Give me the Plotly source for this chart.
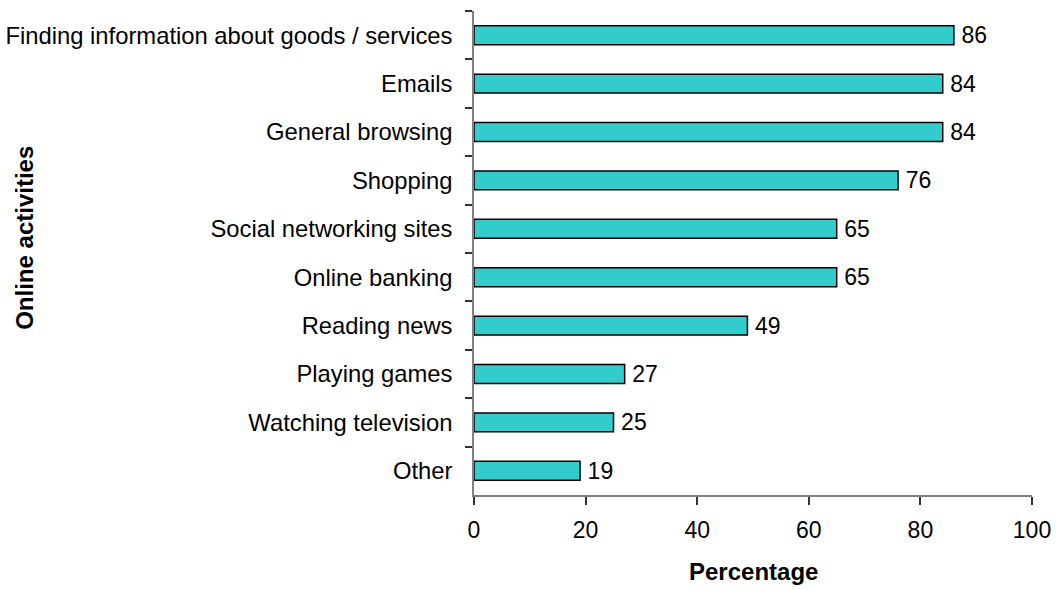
import plotly.graph_objects as go

# Share of users doing each online activity (%)
activities = [
    "Finding information about goods / services",
    "Emails",
    "General browsing",
    "Shopping",
    "Social networking sites",
    "Online banking",
    "Reading news",
    "Playing games",
    "Watching television",
    "Other",
]
percentages = [86, 84, 84, 76, 65, 65, 49, 27, 25, 19]
x_ticks = [0, 20, 40, 60, 80, 100]

FONT = "Liberation Sans, Arial, sans-serif"

fig = go.Figure(
    go.Bar(
        x=percentages,
        y=activities,
        orientation="h",
        marker=dict(color="#33CCCC", line=dict(color="black", width=1.5)),
        texttemplate="\u2009%{x}",
        textposition="outside",
        constraintext="none",
        textfont=dict(family=FONT, size=23, color="black"),
        cliponaxis=False,
        width=0.39,
    )
)

fig.update_layout(
    width=1058,
    height=590,
    margin=dict(l=474, r=26, t=11, b=95),
    paper_bgcolor="white",
    plot_bgcolor="white",
    showlegend=False,
    font=dict(family=FONT, size=23, color="black"),
    xaxis=dict(
        range=[0, 100],
        tickvals=x_ticks,
        ticktext=[str(t) for t in x_ticks],
        automargin=False,
        showgrid=False,
        zeroline=False,
        showline=True,
        linecolor="#808080",
        linewidth=1.5,
        ticks="outside",
        ticklen=8,
        tickcolor="#333333",
        tickwidth=1.5,
        ticklabelstandoff=6,
        tickfont=dict(family=FONT, size=23, color="black"),
        fixedrange=True,
    ),
    yaxis=dict(
        autorange="reversed",
        automargin=False,
        showgrid=False,
        zeroline=False,
        showline=True,
        linecolor="#808080",
        linewidth=1.5,
        ticks="outside",
        tickson="boundaries",
        ticklen=7,
        tickcolor="#333333",
        tickwidth=1.5,
        ticklabelstandoff=15,
        tickfont=dict(family=FONT, size=23.8, color="black"),
        fixedrange=True,
    ),
    annotations=[
        dict(
            text="<b>Percentage</b>",
            xref="paper", yref="paper",
            x=0.5, y=-0.159,
            xanchor="center", yanchor="middle",
            showarrow=False,
            font=dict(family=FONT, size=24, color="black"),
        ),
        dict(
            text="<b>Online activities</b>",
            xref="paper", yref="paper",
            x=-0.805, y=0.531,
            xanchor="center", yanchor="middle",
            textangle=-90,
            showarrow=False,
            font=dict(family=FONT, size=24, color="black"),
        ),
    ],
)

fig.write_html("out.html")
